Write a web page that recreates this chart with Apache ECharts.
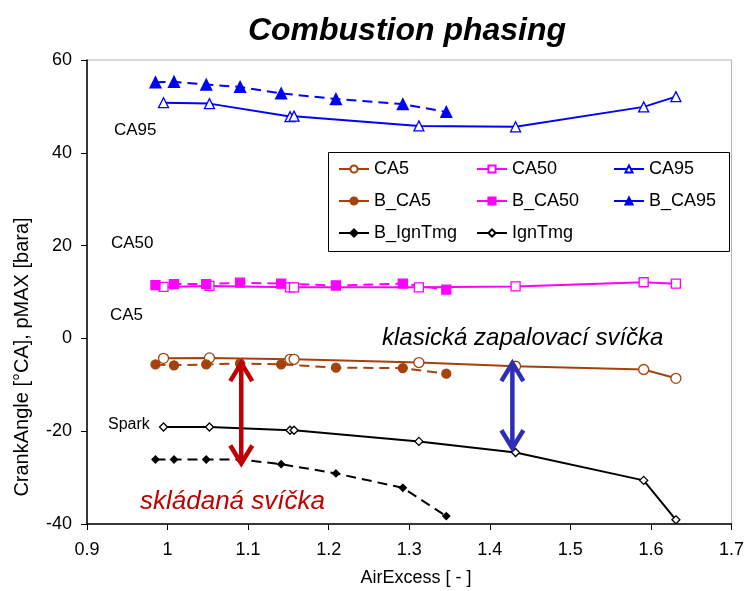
<!DOCTYPE html>
<html><head><meta charset="utf-8">
<script src="https://cdn.jsdelivr.net/npm/echarts@6/dist/echarts.min.js"></script>
<style>html,body{margin:0;padding:0;background:#fff}#c{width:747px;height:591px}</style>
</head><body><div id="c"></div>
<script>
// x positions (air excess)
const xUnb = [0.995, 1.052, 1.152, 1.157, 1.312, 1.432, 1.591, 1.631];
const xB   = [0.985, 1.008, 1.048, 1.090, 1.141, 1.209, 1.292, 1.346];
// conventional spark plug
const CA5    = [-4.3, -4.2, -4.5, -4.5, -5.2, -6.0, -6.7, -8.6];
const CA50   = [11.1, 11.3, 11.0, 11.0, 11.0, 11.2, 12.1, 11.8];
const CA95   = [50.8, 50.6, 47.8, 47.9, 45.8, 45.6, 49.9, 52.1];
const IgnTmg = [-19.1, -19.1, -19.8, -19.8, -22.2, -24.6, -30.6, -39.1];
// folded spark plug (B_)
const B_CA5    = [-5.6, -5.8, -5.6, -5.4, -5.6, -6.3, -6.4, -7.6];
const B_CA50   = [11.5, 11.7, 11.7, 12.0, 11.8, 11.4, 11.8, 10.5];
const B_CA95   = [55.2, 55.3, 54.7, 54.2, 52.8, 51.6, 50.5, 48.8];
const B_IgnTmg = [-26.1, -26.1, -26.1, -26.1, -27.1, -29.1, -32.2, -38.3];
const xTicks = ['0.9','1','1.1','1.2','1.3','1.4','1.5','1.6','1.7'];
const yTicks = ['-40','-20','0','20','40','60'];

const zip = (xs, ys) => xs.map((x, i) => [x, ys[i]]);
const BROWN = '#a5420c', MAG = '#ff00ff', BLUE = '#0000ff', BLK = '#000000';
const FONT = 'Liberation Sans, Arial, sans-serif';

function ser(name, xs, ys, color, symbol, size, filled, dashed) {
  return {
    name, type: 'line', data: zip(xs, ys), symbol, symbolSize: size,
    showSymbol: true, animation: false, z: 3,
    lineStyle: { color, width: 2, type: dashed ? [10, 6] : 'solid' },
    itemStyle: { color: filled ? color : '#ffffff', borderColor: color, borderWidth: 1.3 },
    emphasis: { disabled: true }
  };
}

const chart = echarts.init(document.getElementById('c'), null, { renderer: 'canvas' });
const legendCommon = {
  orient: 'vertical', itemWidth: 30, itemHeight: 9, itemGap: 14, top: 160, z: 6, padding: 0,
  textStyle: { fontSize: 18, fontFamily: FONT, color: '#000' },
  lineStyle: { type: 'solid' }, selectedMode: false
};
chart.setOption({
  animation: false,
  backgroundColor: '#fff',
  grid: { left: 87, right: 14, top: 60, bottom: 67, show: true, borderColor: '#b4b4b4', borderWidth: 1, backgroundColor: 'transparent' },
  xAxis: {
    type: 'value', min: 0.9, max: 1.7, interval: 0.1,
    axisLine: { show: true, onZero: false, lineStyle: { color: '#000', width: 1.5 } },
    axisTick: { show: true, inside: false, length: 6, lineStyle: { color: '#000' } },
    splitLine: { show: false },
    axisLabel: { margin: 17, fontSize: 18, fontFamily: FONT, color: '#000',
      formatter: (v) => xTicks[Math.round((v - 0.9) * 10)] }
  },
  yAxis: {
    type: 'value', min: -40, max: 60, interval: 20,
    axisLine: { show: true, onZero: false, lineStyle: { color: '#000', width: 1.5 } },
    axisTick: { show: true, inside: false, length: 6, lineStyle: { color: '#000' } },
    splitLine: { show: false },
    axisLabel: { margin: 15, fontSize: 18, fontFamily: FONT, color: '#000',
      formatter: (v) => yTicks[Math.round((v + 40) / 20)] }
  },
  legend: [
    Object.assign({ left: 338, data: ['CA5', 'B_CA5', 'B_IgnTmg'] }, legendCommon),
    Object.assign({ left: 476, data: ['CA50', 'B_CA50', 'IgnTmg'] }, legendCommon),
    Object.assign({ left: 613, data: ['CA95', 'B_CA95'] }, legendCommon)
  ],
  series: [
    ser('CA5', xUnb, CA5, BROWN, 'circle', 10, false, false),
    ser('CA50', xUnb, CA50, MAG, 'rect', 9, false, false),
    ser('CA95', xUnb, CA95, BLUE, 'triangle', 10, false, false),
    ser('B_CA5', xB, B_CA5, BROWN, 'circle', 9, true, true),
    ser('B_CA50', xB, B_CA50, MAG, 'rect', 9, true, true),
    ser('B_CA95', xB, B_CA95, BLUE, 'triangle', 11, true, true),
    ser('B_IgnTmg', xB, B_IgnTmg, BLK, 'diamond', 7, true, true),
    ser('IgnTmg', xUnb, IgnTmg, BLK, 'diamond', 8, false, false)
  ]
});

function arrow(x, yTop, yBot, color) {
  const p1 = chart.convertToPixel({ gridIndex: 0 }, [x, yTop]);
  const p2 = chart.convertToPixel({ gridIndex: 0 }, [x, yBot]);
  const st = { stroke: color, lineWidth: 4.5, lineCap: 'butt', lineJoin: 'miter', fill: null };
  return [
    { type: 'line', shape: { x1: p1[0], y1: p1[1] + 2, x2: p2[0], y2: p2[1] - 2 }, style: st, z: 10 },
    { type: 'polyline', shape: { points: [[p1[0] - 11, p1[1] + 20], [p1[0], p1[1] + 2], [p1[0] + 11, p1[1] + 20]] }, style: st, z: 10 },
    { type: 'polyline', shape: { points: [[p2[0] - 11, p2[1] - 20], [p2[0], p2[1] - 2], [p2[0] + 11, p2[1] - 20]] }, style: st, z: 10 }
  ];
}

const txt = (x, y, text, size, opts) => Object.assign({
  type: 'text', x, y, z: 10,
  style: Object.assign({ text, fontSize: size, fontFamily: FONT, fill: '#000', textAlign: 'left', textVerticalAlign: 'middle' }, opts || {})
});

chart.setOption({
  graphic: [
    { type: 'rect', shape: { x: 328.5, y: 152.5, width: 401, height: 99 }, style: { fill: '#fff', stroke: '#000', lineWidth: 1 }, z: 4 },
    txt(407, 31, 'Combustion phasing', 32, { textAlign: 'center', fontWeight: 'bold', fontStyle: 'italic' }),
    Object.assign(txt(22, 357, 'CrankAngle [°CA], pMAX [bara]', 20, { textAlign: 'center' }), { rotation: Math.PI / 2 }),
    txt(416, 578, 'AirExcess [ - ]', 18, { textAlign: 'center' }),
    txt(114, 130, 'CA95', 17),
    txt(111, 243, 'CA50', 17),
    txt(110, 315, 'CA5', 17),
    txt(108, 425, 'Spark', 16),
    txt(382, 338, 'klasická zapalovací svíčka', 24, { fontStyle: 'italic' }),
    txt(140, 502, 'skládaná svíčka', 26, { fontStyle: 'italic', fill: '#c00000' }),
    ...arrow(1.0915, -4.9, -27.4, '#c00000'),
    ...arrow(1.428, -4.9, -24.1, '#2e2eb5')
  ]
});
</script></body></html>
